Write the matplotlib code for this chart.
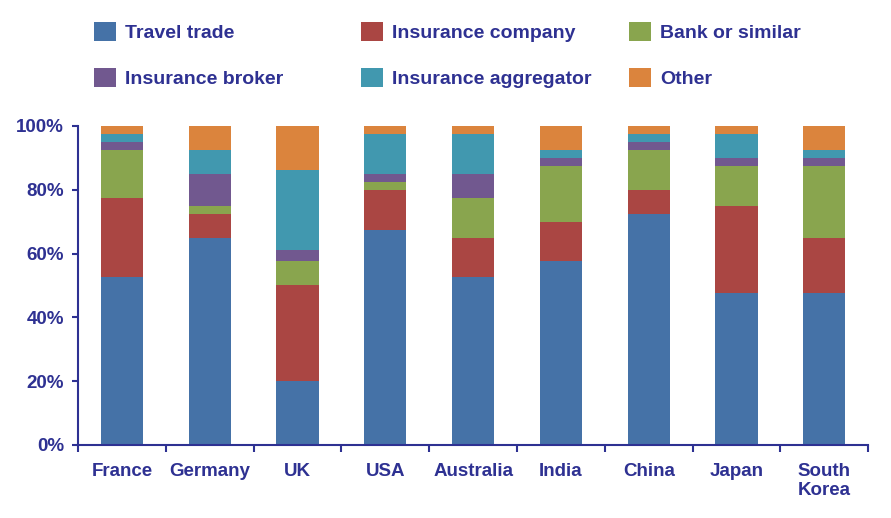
import numpy as np
import matplotlib.pyplot as plt
from matplotlib.patches import Patch
from matplotlib.ticker import FuncFormatter

plt.rcParams['font.family'] = ['Liberation Sans', 'DejaVu Sans']

countries = ["France", "Germany", "UK", "USA", "Australia", "India", "China", "Japan", "South\nKorea"]
series_names = ["Travel trade", "Insurance company", "Bank or similar",
                "Insurance broker", "Insurance aggregator", "Other"]

# share of respondents (%) per channel
travel_trade = [52.5, 65.0, 20.0, 67.5, 52.5, 57.5, 72.5, 47.5, 47.5]
insurance_company = [25.0, 7.5, 30.0, 12.5, 12.5, 12.5, 7.5, 27.5, 17.5]
bank_or_similar = [15.0, 2.5, 7.5, 2.5, 12.5, 17.5, 12.5, 12.5, 22.5]
insurance_broker = [2.5, 10.0, 3.75, 2.5, 7.5, 2.5, 2.5, 2.5, 2.5]
insurance_aggregator = [2.5, 7.5, 25.0, 12.5, 12.5, 2.5, 2.5, 7.5, 2.5]
other = [2.5, 7.5, 13.75, 2.5, 2.5, 7.5, 2.5, 2.5, 7.5]

colors = ["#4572A7", "#AA4643", "#89A54E", "#71588F", "#4198AF", "#DB843D"]
navy = "#2E3192"

fig = plt.figure(figsize=(8.91, 5.18), dpi=100)
ax = fig.add_axes([0.0875, 0.141, 0.887, 0.616])

x = np.arange(len(countries))
bottom = np.zeros(len(countries))
all_series = [travel_trade, insurance_company, bank_or_similar,
              insurance_broker, insurance_aggregator, other]
for vals, col, name in zip(all_series, colors, series_names):
    ax.bar(x, vals, bottom=bottom, width=0.48, color=col, label=name, linewidth=0)
    bottom += np.array(vals)

ax.set_xlim(-0.5, len(countries) - 0.5)
ax.set_ylim(0, 100)
ax.set_yticks(range(0, 101, 20))
ax.yaxis.set_major_formatter(FuncFormatter(lambda v, p: f"{int(v)}%"))
ax.set_xticks(x)
ax.set_xticklabels(countries)
ax.set_xticks(np.arange(-0.5, len(countries), 1), minor=True)

for s in ["top", "right"]:
    ax.spines[s].set_visible(False)
for s in ["left", "bottom"]:
    ax.spines[s].set_color(navy)
    ax.spines[s].set_linewidth(1.5)

ax.tick_params(axis="y", colors=navy, labelsize=13.5, length=4, width=1.5, pad=6)
ax.tick_params(axis="x", which="major", colors=navy, labelsize=13.5, length=0, pad=13)
ax.tick_params(axis="x", which="minor", color=navy, length=5, width=1.5)
for lbl in ax.get_xticklabels() + ax.get_yticklabels():
    lbl.set_fontweight("bold")
    lbl.set_linespacing(1.15)

# legend in three columns, placed by hand
handles = [Patch(facecolor=c, edgecolor="none") for c in colors]
col_x = [94 / 891, 361 / 891, 629 / 891]
for i, cx in enumerate(col_x):
    idx = [i, i + 3]
    leg = fig.legend([handles[j] for j in idx], [series_names[j] for j in idx],
                     loc="upper left", bbox_to_anchor=(cx, 1 - 22 / 518), frameon=False,
                     handlelength=1.15, handleheight=1.15, handletextpad=0.45,
                     labelspacing=1.3, borderaxespad=0, borderpad=0,
                     prop={"weight": "bold", "size": 14})
    for t in leg.get_texts():
        t.set_color(navy)

fig.savefig("out.png", dpi=100)
